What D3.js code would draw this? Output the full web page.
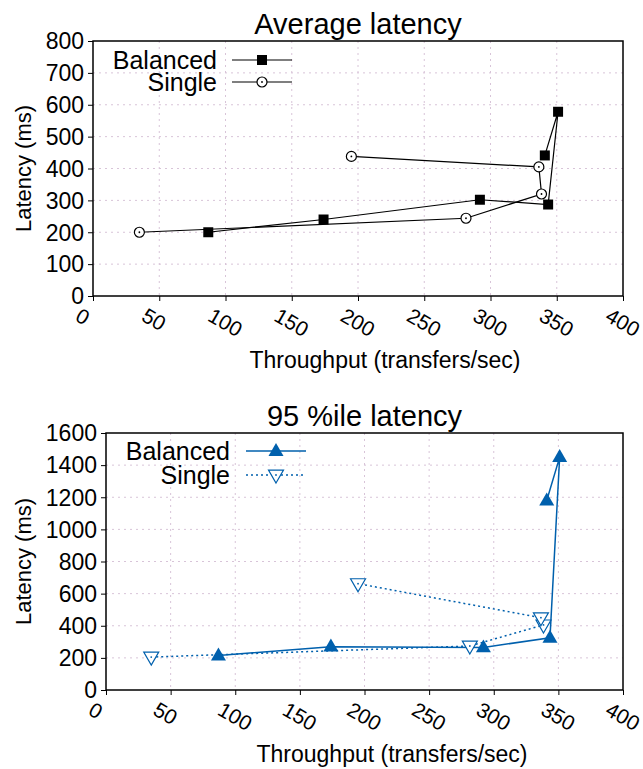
<!DOCTYPE html>
<html>
<head>
<meta charset="utf-8">
<script src="https://cdn.jsdelivr.net/npm/d3@7"></script>
<style>
  html, body { margin: 0; padding: 0; background: #fff; }
  svg { display: block; }
  text { font-family: "Liberation Sans", Arial, Helvetica, sans-serif; fill: #000; }
</style>
</head>
<body>
<svg id="chart" width="643" height="769"></svg>
<script>
// Throughput (transfers/sec) for each run, in run order
const balancedThroughput = [87, 174, 292, 343.5, 351, 341];
const singleThroughput   = [35, 281.5, 338.5, 336.5, 195];

// Average latency (ms)
const balancedAvgLatency = [200, 240, 302, 287, 578, 441];
const singleAvgLatency   = [200, 244, 320, 405, 438];

// 95th percentile latency (ms)
const balancedP95Latency = [215, 270, 265, 325, 1450, 1180];
const singleP95Latency   = [205, 274, 405, 450, 662];

// Axis ticks
const xTicks      = [0, 50, 100, 150, 200, 250, 300, 350, 400];
const yTicksAvg   = [0, 100, 200, 300, 400, 500, 600, 700, 800];
const yTicksP95   = [0, 200, 400, 600, 800, 1000, 1200, 1400, 1600];

const seriesNames = ["Balanced", "Single"];

const svg = d3.select("#chart");
const BLUE = "#0060ad";
const GRID = "#d8c4d8";

function symbolPath(shape, size) {
  const h = size * 0.866;
  if (shape === "square") {
    const s = size / 2;
    return `M${-s},${-s}H${s}V${s}H${-s}Z`;
  }
  if (shape === "triUp") {
    return `M0,${-h * 0.62}L${size / 2},${h * 0.38}L${-size / 2},${h * 0.38}Z`;
  }
  if (shape === "triDown") {
    return `M0,${h * 0.62}L${size / 2},${-h * 0.38}L${-size / 2},${-h * 0.38}Z`;
  }
  return null;
}

function drawMarker(g, shape, color) {
  if (shape === "square") {
    g.append("path").attr("d", symbolPath("square", 10)).attr("fill", color);
  } else if (shape === "circle") {
    g.append("circle").attr("r", 5).attr("fill", "#fff").attr("stroke", color).attr("stroke-width", 1.2);
    g.append("circle").attr("r", 0.9).attr("fill", color);
  } else if (shape === "triUp") {
    g.append("path").attr("d", symbolPath("triUp", 15)).attr("fill", color);
  } else if (shape === "triDown") {
    g.append("path").attr("d", symbolPath("triDown", 15)).attr("fill", "#fff")
      .attr("stroke", color).attr("stroke-width", 1.2);
    g.append("circle").attr("r", 0.9).attr("fill", color);
  }
}

function drawPanel(cfg) {
  const x = d3.scaleLinear().domain([0, 400]).range([cfg.left, cfg.right]);
  const y = d3.scaleLinear().domain([0, cfg.yMax]).range([cfg.bottom, cfg.top]);
  const g = svg.append("g");

  // grid
  const grid = g.append("g");
  xTicks.slice(1, -1).forEach(t => {
    grid.append("line").attr("x1", x(t)).attr("x2", x(t)).attr("y1", cfg.top).attr("y2", cfg.bottom)
      .attr("stroke", GRID).attr("stroke-width", 1).attr("stroke-dasharray", "2,4");
  });
  cfg.yTicks.slice(1, -1).forEach(t => {
    grid.append("line").attr("x1", cfg.left).attr("x2", cfg.right).attr("y1", y(t)).attr("y2", y(t))
      .attr("stroke", GRID).attr("stroke-width", 1).attr("stroke-dasharray", "2,4");
  });

  // axes
  const xAxis = d3.axisBottom(x).tickValues(xTicks).tickSize(5).tickFormat("");
  g.append("g").attr("transform", `translate(0,${cfg.bottom})`).call(xAxis)
    .call(a => a.select(".domain").remove())
    .call(a => a.selectAll("line").attr("stroke", "#000").attr("stroke-width", 1));
  const yAxis = d3.axisLeft(y).tickValues(cfg.yTicks).tickSize(5).tickFormat("");
  g.append("g").attr("transform", `translate(${cfg.left},0)`).call(yAxis)
    .call(a => a.select(".domain").remove())
    .call(a => a.selectAll("line").attr("stroke", "#000").attr("stroke-width", 1));

  // tick labels
  xTicks.forEach(t => {
    g.append("text")
      .attr("transform", `translate(${x(t) - 19},${cfg.bottom + 24}) rotate(30)`)
      .attr("font-size", 21).attr("text-anchor", "start").text(t);
  });
  cfg.yTicks.forEach(t => {
    g.append("text").attr("x", cfg.left - 9).attr("y", y(t)).attr("dy", "0.36em")
      .attr("font-size", 23).attr("text-anchor", "end").text(t);
  });

  // frame
  g.append("rect").attr("x", cfg.left).attr("y", cfg.top)
    .attr("width", cfg.right - cfg.left).attr("height", cfg.bottom - cfg.top)
    .attr("fill", "none").attr("stroke", "#000").attr("stroke-width", 1.5);

  // titles
  g.append("text").attr("x", (cfg.left + cfg.right) / 2).attr("y", cfg.top - 7)
    .attr("text-anchor", "middle").attr("font-size", 29).text(cfg.title);
  g.append("text").attr("x", cfg.xLabelX).attr("y", cfg.bottom + 72)
    .attr("text-anchor", "middle").attr("font-size", 23).text("Throughput (transfers/sec)");
  g.append("text").attr("transform", `translate(31,${(cfg.top + cfg.bottom) / 2}) rotate(-90)`)
    .attr("text-anchor", "middle").attr("font-size", 22).text("Latency (ms)");

  // series
  const line = d3.line().x(d => x(d[0])).y(d => y(d[1]));
  cfg.series.forEach(s => {
    const pts = d3.zip(s.xs, s.ys);
    g.append("path").datum(pts).attr("d", line).attr("fill", "none")
      .attr("stroke", s.color).attr("stroke-width", s.width)
      .attr("stroke-dasharray", s.dash || null);
    pts.forEach(p => {
      drawMarker(g.append("g").attr("transform", `translate(${x(p[0])},${y(p[1])})`), s.shape, s.color);
    });
  });

  // legend
  cfg.series.forEach((s, i) => {
    const ly = cfg.legendY + i * cfg.legendGap;
    g.append("text").attr("x", cfg.legendTextX).attr("y", ly).attr("dy", "0.36em")
      .attr("text-anchor", "end").attr("font-size", 25).text(seriesNames[i]);
    g.append("line").attr("x1", cfg.legendLineX).attr("x2", cfg.legendLineX + 60)
      .attr("y1", ly).attr("y2", ly).attr("stroke", s.color).attr("stroke-width", s.width)
      .attr("stroke-dasharray", s.dash || null);
    drawMarker(g.append("g").attr("transform", `translate(${cfg.legendLineX + 30},${ly})`), s.shape, s.color);
  });
}

drawPanel({
  title: "Average latency",
  left: 93, right: 623, top: 41, bottom: 296, yMax: 800, yTicks: yTicksAvg,
  xLabelX: 385,
  legendY: 60, legendGap: 22, legendTextX: 217, legendLineX: 232,
  series: [
    { xs: balancedThroughput, ys: balancedAvgLatency, shape: "square", color: "#000", width: 1.2 },
    { xs: singleThroughput, ys: singleAvgLatency, shape: "circle", color: "#000", width: 1.2 }
  ]
});

drawPanel({
  title: "95 %ile latency",
  left: 106, right: 623, top: 433, bottom: 690, yMax: 1600, yTicks: yTicksP95,
  xLabelX: 392,
  legendY: 451, legendGap: 24, legendTextX: 230, legendLineX: 246,
  series: [
    { xs: balancedThroughput, ys: balancedP95Latency, shape: "triUp", color: BLUE, width: 1.5 },
    { xs: singleThroughput, ys: singleP95Latency, shape: "triDown", color: BLUE, width: 1.5, dash: "2,3" }
  ]
});
</script>
</body>
</html>
